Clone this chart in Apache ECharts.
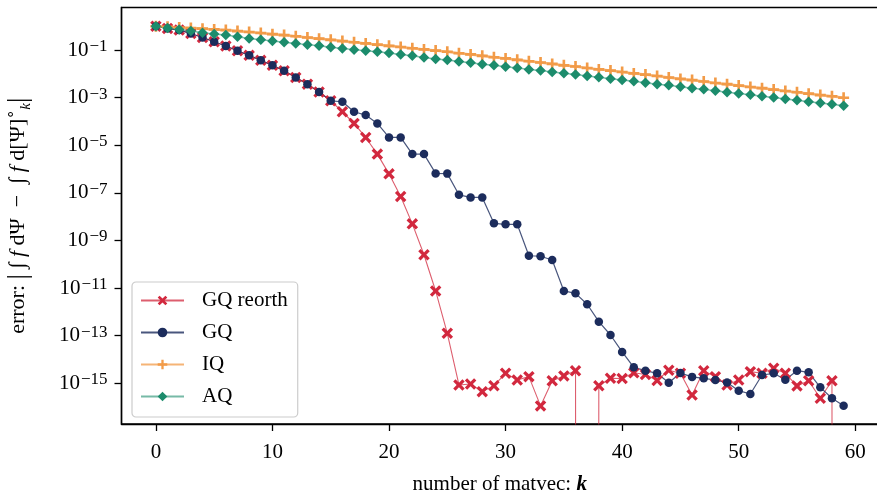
<!DOCTYPE html>
<html><head><meta charset="utf-8">
<script src="https://cdn.jsdelivr.net/npm/echarts@6/dist/echarts.min.js"></script>
<style>html,body{margin:0;padding:0;background:#fff}#c{width:877px;height:492px}</style>
</head><body><div id="c"></div>
<script>
// ---- data (log10 of the error; -Infinity = exactly zero error) ----
const kValues = [0,1,2,3,4,5,6,7,8,9,10,11,12,13,14,15,16,17,18,19,20,21,22,23,24,25,26,27,28,29,30,31,32,33,34,35,36,37,38,39,40,41,42,43,44,45,46,47,48,49,50,51,52,53,54,55,56,57,58,59];
const gqReorthLog10 = [0,-0.09,-0.16,-0.30,-0.47,-0.65,-0.83,-1.03,-1.22,-1.43,-1.64,-1.87,-2.15,-2.43,-2.76,-3.13,-3.59,-4.08,-4.67,-5.37,-6.20,-7.15,-8.30,-9.60,-11.12,-12.90,-15.07,-15.03,-15.35,-15.10,-14.58,-14.86,-14.72,-15.95,-14.89,-14.69,-14.47,-Infinity,-15.10,-14.79,-14.80,-14.56,-14.63,-14.88,-14.45,-14.58,-15.49,-14.47,-14.72,-15.07,-14.86,-14.51,-14.58,-14.37,-14.58,-15.11,-14.89,-15.63,-14.89,-Infinity];
const gqLog10 = [0,-0.09,-0.16,-0.30,-0.47,-0.65,-0.83,-1.03,-1.22,-1.43,-1.64,-1.87,-2.15,-2.43,-2.76,-3.13,-3.17,-3.59,-3.73,-4.08,-4.67,-4.67,-5.37,-5.37,-6.18,-6.19,-7.08,-7.19,-7.19,-8.28,-8.32,-8.32,-9.64,-9.66,-9.82,-11.12,-11.22,-11.68,-12.41,-12.97,-13.68,-14.33,-14.47,-14.58,-14.98,-14.57,-14.73,-14.79,-14.86,-14.97,-15.31,-15.45,-14.65,-14.58,-14.85,-14.47,-14.54,-15.17,-15.63,-15.94];
const iqLog10 = [0.00,-0.02,-0.05,-0.07,-0.10,-0.13,-0.16,-0.20,-0.24,-0.28,-0.33,-0.37,-0.42,-0.47,-0.52,-0.57,-0.62,-0.67,-0.72,-0.77,-0.82,-0.87,-0.92,-0.97,-1.02,-1.07,-1.13,-1.18,-1.24,-1.30,-1.35,-1.41,-1.47,-1.52,-1.58,-1.64,-1.69,-1.75,-1.81,-1.86,-1.92,-1.98,-2.03,-2.09,-2.15,-2.21,-2.26,-2.32,-2.38,-2.43,-2.49,-2.55,-2.60,-2.66,-2.72,-2.77,-2.83,-2.89,-2.94,-3.00];
const aqLog10 = [0.00,-0.07,-0.13,-0.20,-0.27,-0.32,-0.37,-0.44,-0.51,-0.56,-0.62,-0.67,-0.72,-0.77,-0.82,-0.88,-0.93,-0.98,-1.03,-1.07,-1.12,-1.18,-1.24,-1.31,-1.37,-1.42,-1.48,-1.53,-1.59,-1.64,-1.70,-1.75,-1.81,-1.86,-1.92,-1.97,-2.03,-2.09,-2.14,-2.20,-2.26,-2.31,-2.37,-2.43,-2.48,-2.54,-2.60,-2.65,-2.71,-2.77,-2.82,-2.88,-2.94,-2.99,-3.05,-3.11,-3.17,-3.22,-3.28,-3.34];
const seriesNames = ['GQ reorth','GQ','IQ','AQ'];
const xTickValues = [0,10,20,30,40,50,60];
const yTickExponents = [-15,-13,-11,-9,-7,-5,-3,-1];

// ---- styling ----
const FONT = 'Liberation Serif';
const FS = 21;
const RED = '#d2283e', NAVY = '#1c2c5c', ORANGE = '#f29b48', GREEN = '#1c8c6c';
const crossPath = 'path://M0,2L2,0L5,3L8,0L10,2L7,5L10,8L8,10L5,7L2,10L0,8L3,5Z';
const plusPath = 'path://M3.8,0H6.2V3.8H10V6.2H6.2V10H3.8V6.2H0V3.8H3.8Z';

// zero error -> clipped far below the axis (like matplotlib's log clipping)
function toPlot(v){ return v === -Infinity ? -400 : v; }
function pairs(arr){ return arr.map((v,i)=>[kValues[i], toPlot(v)]); }

const chart = echarts.init(document.getElementById('c'), null, {renderer:'canvas'});
const baseSeries = {type:'line', clip:true, showAllSymbol:true, animation:false, emphasis:{disabled:true}};
chart.setOption({
  animation:false,
  textStyle:{fontFamily:FONT},
  grid:{left:121.5, top:7.5, width:756.5, height:416.5, containLabel:false, outerBoundsMode:'none',
        show:true, borderColor:'#000', borderWidth:1.4, backgroundColor:'transparent'},
  legend:{
    orient:'vertical', left:132, top:282, data:seriesNames,
    itemWidth:43, itemHeight:12, itemGap:11,
    padding:[8,10,10,8],
    backgroundColor:'rgba(255,255,255,0.85)', borderColor:'#cccccc', borderWidth:1.2, borderRadius:4,
    textStyle:{fontFamily:FONT, fontSize:FS, color:'#000', lineHeight:20, padding:[0,0,0,13]}
  },
  xAxis:{
    type:'value', min:-2.95, max:61.95,
    axisLine:{show:true, onZero:false, lineStyle:{color:'#000', width:1.4}},
    axisTick:{show:true, length:7, lineStyle:{color:'#000', width:1.3}, customValues:xTickValues},
    axisLabel:{customValues:xTickValues, margin:18, color:'#000', fontFamily:FONT, fontSize:FS},
    splitLine:{show:false},
    name:'{t|number of matvec: }{k|k}', nameLocation:'middle', nameGap:50,
    nameTextStyle:{rich:{t:{fontFamily:FONT, fontSize:FS, color:'#000'}, k:{fontFamily:FONT, fontSize:FS, fontStyle:'italic', fontWeight:'bold', color:'#000'}}}
  },
  yAxis:{
    type:'value', min:-16.71, max:0.79,
    axisLine:{show:true, onZero:false, lineStyle:{color:'#000', width:1.4}},
    axisTick:{show:true, length:7, lineStyle:{color:'#000', width:1.3}, customValues:yTickExponents},
    axisLabel:{customValues:yTickExponents, margin:14, color:'#000',
      formatter:function(v){ return '{b|10}{s|' + String(v).replace('-','\u2212') + '}'; },
      rich:{b:{fontFamily:FONT, fontSize:FS, lineHeight:24, color:'#000'}, s:{fontFamily:FONT, fontSize:17, lineHeight:13, verticalAlign:'top', color:'#000', padding:[0,0,0,1]}}},
    splitLine:{show:false},
    name:'{t|error: }{bar||}{t| \u222B }{i|f}{t| d\u03A8  \u2212  \u222B }{i|f}{t| d[\u03A8]}{sup|\u2218}{sub|k}{bar||}',
    nameLocation:'middle', nameRotate:90, nameGap:88,
    nameTextStyle:{rich:{
      t:{fontFamily:FONT, fontSize:22, lineHeight:30, color:'#000'},
      bar:{fontFamily:FONT, fontSize:27, lineHeight:30, color:'#000'},
      i:{fontFamily:FONT, fontSize:22, fontStyle:'italic', lineHeight:30, color:'#000'},
      sup:{fontFamily:FONT, fontSize:15, lineHeight:14, verticalAlign:'top', color:'#000'},
      sub:{fontFamily:FONT, fontSize:15, fontStyle:'italic', lineHeight:14, verticalAlign:'bottom', color:'#000'}
    }}
  },
  series:[
    Object.assign({}, baseSeries, {name:seriesNames[0], data:pairs(gqReorthLog10), symbol:crossPath, symbolSize:11.5,
      itemStyle:{color:RED}, lineStyle:{color:RED, width:1.1, opacity:0.75}}),
    Object.assign({}, baseSeries, {name:seriesNames[1], data:pairs(gqLog10), symbol:'circle', symbolSize:8.5,
      itemStyle:{color:NAVY}, lineStyle:{color:NAVY, width:1.2, opacity:0.8}}),
    Object.assign({}, baseSeries, {name:seriesNames[2], data:pairs(iqLog10), symbol:plusPath, symbolSize:11,
      itemStyle:{color:ORANGE}, lineStyle:{color:ORANGE, width:2.5, opacity:0.75}}),
    Object.assign({}, baseSeries, {name:seriesNames[3], data:pairs(aqLog10), symbol:'diamond', symbolSize:[10.5,10.5],
      itemStyle:{color:GREEN}, lineStyle:{color:GREEN, width:1.5, opacity:0.6}})
  ]
});
</script></body></html>
